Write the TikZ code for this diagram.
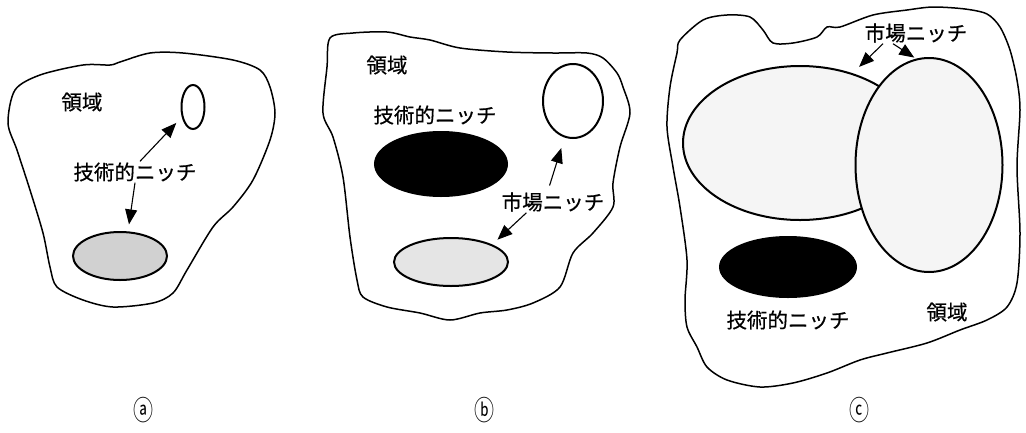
\documentclass[tikz,border=0pt]{standalone}
\usepackage{fontspec}
\newfontfamily\cjk[FakeBold=0.6]{Noto Sans CJK JP}
\newfontfamily\cjktag{Noto Sans CJK JP}
\usetikzlibrary{shapes.geometric,arrows.meta}
\tikzset{
  blob/.style={draw=black,line width=1.5pt},
  niche/.style={ellipse,draw=black,line width=2pt,inner sep=0pt},
  lbl/.style={font=\cjk\fontsize{20.5}{24}\selectfont,inner sep=1pt},
  tag/.style={font=\cjktag\fontsize{25}{30}\selectfont,inner sep=1pt},
  arr/.style={line width=1.1pt,-{Triangle[length=15pt,width=12pt]}}
}
\begin{document}
\begin{tikzpicture}[x=1pt,y=-1pt]
\useasboundingbox[fill=white] (0,0) rectangle (1026,432);
% ---------- (a) ----------
\draw[blob] plot[smooth cycle,tension=0.5] coordinates {(8,123) (15,90) (40,75) (83,65) (110,65) (120,62) (150,53) (183,53) (233,60) (260,70) (270,87) (275,113) (270,140) (253,180) (233,207) (213,227) (187,270) (173,293) (153,303) (113,307) (83,300) (57,287) (50,267) (43,233) (30,190) (17,150)};
\node[niche,fill=white,minimum width=23pt,minimum height=44pt] (eSmallA) at (193,107) {};
\node[niche,fill=black!18,minimum width=94pt,minimum height=48pt] (eBotA) at (120,256) {};
\node[lbl] (tDomA) at (82,102) {領域};
\node[lbl] (tTechA) at (135,172) {技術的ニッチ};
\draw[arr,shorten >=8pt] (tTechA.65) -- (eSmallA.222);
\draw[arr,shorten >=7pt] (tTechA.south) -- (eBotA.72);
\node[tag] (capA) at (143,410) {\scalebox{0.8}[1.1]{ⓐ}};
% ---------- (b) ----------
\draw[blob] plot[smooth cycle,tension=0.5] coordinates {(330,38) (353,33) (387,32) (410,37) (430,40) (460,48) (507,52) (553,53) (587,53) (603,58) (617,73) (623,87) (630,113) (620,147) (613,183) (613,207) (593,233) (573,253) (560,287) (533,303) (507,310) (480,313) (450,320) (420,313) (387,307) (363,297) (357,280) (350,237) (343,177) (333,137) (323,113) (327,67)};
\node[niche,fill=black,minimum width=132pt,minimum height=64pt] (eBlackB) at (441,164) {};
\node[niche,fill=white,minimum width=60pt,minimum height=74pt] (eUpB) at (573,101) {};
\node[niche,fill=black!10,minimum width=114pt,minimum height=48pt] (eBotB) at (451,262) {};
\node[lbl] (tDomB) at (387,65) {領域};
\node[lbl] (tTechB) at (435,115) {技術的ニッチ};
\node[lbl] (tMktB) at (553,202) {市場ニッチ};
\draw[arr,shorten <=6pt,shorten >=11pt] (tMktB.116) -- (eUpB.257);
\draw[arr,shorten >=7pt] (tMktB.202.6) -- (eBotB.23);
\node[tag] (capB) at (484,410) {\scalebox{0.8}[1.1]{ⓑ}};
% ---------- (c) ----------
\draw[blob] plot[smooth cycle,tension=0.5] coordinates {(680,40) (703,20) (727,15) (750,17) (763,30) (773,43) (793,43) (817,37) (827,27) (840,27) (873,15) (907,10) (933,7) (965,9) (987,14) (1000,27) (1010,50) (1017,80) (1020,110) (1017,167) (1020,233) (1017,283) (1007,307) (987,320) (960,330) (927,343) (887,353) (860,360) (827,373) (793,383) (760,387) (727,380) (707,367) (697,347) (687,327) (685,300) (687,260) (680,207) (673,167) (667,127) (670,87) (677,53)};
\node[niche,fill=black!4,minimum width=234pt,minimum height=154pt] (eBigC) at (800,143) {};
\node[niche,fill=black!4,minimum width=147pt,minimum height=214pt] (eRightC) at (929,165) {};
\node[niche,fill=black,minimum width=136pt,minimum height=60pt] (eBlackC) at (788,267) {};
\node[lbl] (tMktC) at (916,33) {市場ニッチ};
\node[lbl] (tTechC) at (788,320) {技術的ニッチ};
\node[lbl] (tDomC) at (947,312) {領域};
\draw[arr,shorten >=9pt] (tMktC.198.2) -- (eBigC.53.1);
\draw[arr,shorten >=2pt] (tMktC.205.7) -- (eRightC.97.4);
\node[tag] (capC) at (859,410) {\scalebox{0.8}[1.1]{ⓒ}};
\end{tikzpicture}
\end{document}
